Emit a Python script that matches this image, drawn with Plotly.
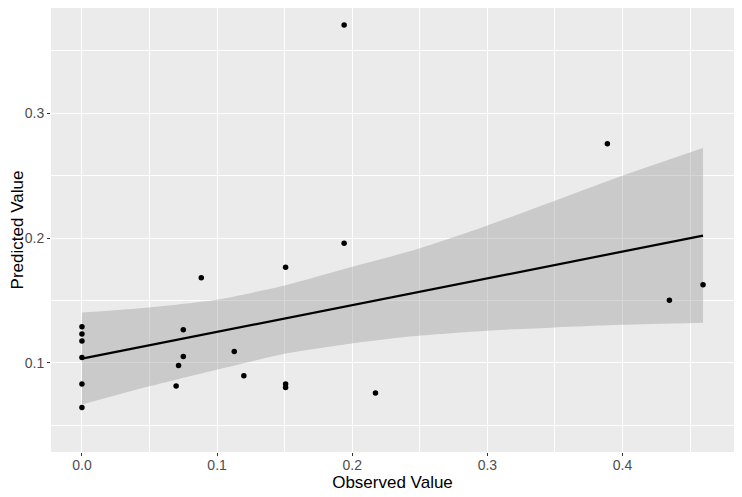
import plotly.graph_objects as go

# scatter data
observed = [0.0, 0.0, 0.0, 0.0, 0.0, 0.0,
            0.0697, 0.0715, 0.0750, 0.0750, 0.0883, 0.1127, 0.1198,
            0.1507, 0.1507, 0.1507, 0.1940, 0.1940, 0.2172,
            0.3888, 0.4347, 0.4596]
predicted = [0.1290, 0.1232, 0.1176, 0.1043, 0.0830, 0.0643,
             0.0814, 0.0980, 0.1266, 0.1052, 0.1682, 0.1092, 0.0898,
             0.1767, 0.0830, 0.0802, 0.3708, 0.1958, 0.0758,
             0.2756, 0.1502, 0.1626]

# fitted line and 95% confidence band
fit_x = [0.0, 0.4596]
fit_y = [0.1034, 0.2020]
band_x = [0.0, 0.0478, 0.0996, 0.1501, 0.2007, 0.2426, 0.2998, 0.3499, 0.3999, 0.4596]
band_upper = [0.1404, 0.1442, 0.1506, 0.1620, 0.1772, 0.1894, 0.2100, 0.2300, 0.2500, 0.2722]
band_lower = [0.0666, 0.0806, 0.0945, 0.1074, 0.1158, 0.1212, 0.1258, 0.1284, 0.1305, 0.1322]

x_ticks = [0.0, 0.1, 0.2, 0.3, 0.4]
x_tick_labels = ["0.0", "0.1", "0.2", "0.3", "0.4"]
y_ticks = [0.1, 0.2, 0.3]
y_tick_labels = ["0.1", "0.2", "0.3"]

FONT = "Liberation Sans, Arial, Helvetica, sans-serif"

fig = go.Figure()
fig.add_trace(go.Scatter(x=band_x, y=band_lower, mode="lines",
                         line=dict(width=0, shape="spline", smoothing=0.6),
                         hoverinfo="skip", showlegend=False))
fig.add_trace(go.Scatter(x=band_x, y=band_upper, mode="lines", fill="tonexty",
                         fillcolor="rgba(153,153,153,0.4)",
                         line=dict(width=0, shape="spline", smoothing=0.6),
                         hoverinfo="skip", showlegend=False))
fig.add_trace(go.Scatter(x=observed, y=predicted, mode="markers",
                         marker=dict(color="black", size=5.5), showlegend=False))
fig.add_trace(go.Scatter(x=fit_x, y=fit_y, mode="lines",
                         line=dict(color="black", width=2.2), showlegend=False))

axis_common = dict(
    automargin=False,
    showline=False, zeroline=False, gridcolor="white", gridwidth=1.2,
    ticks="outside", ticklen=3, tickcolor="#333333", tickwidth=1,
    tickfont=dict(family=FONT, size=14, color="#4D4D4D"),
    title_font=dict(family=FONT, size=17, color="black"),
    minor=dict(dtick=0.05, showgrid=True, gridcolor="white", gridwidth=0.6, ticks=""),
)
fig.update_xaxes(range=[-0.0229, 0.4825], tickvals=x_ticks, ticktext=x_tick_labels,
                 title_text="Observed Value", title_standoff=1,
                 ticklabelstandoff=-3, **axis_common)
fig.update_yaxes(range=[0.0286, 0.3844], tickvals=y_ticks, ticktext=y_tick_labels,
                 title_text="Predicted Value", title_standoff=4, **axis_common)
# page body adds an 8px offset, so the figure is sized to fit the window
fig.update_layout(
    width=734, height=489,
    margin=dict(l=43, r=8, t=0, b=45),
    plot_bgcolor="#EBEBEB", paper_bgcolor="white",
)
fig.write_html("out.html")
